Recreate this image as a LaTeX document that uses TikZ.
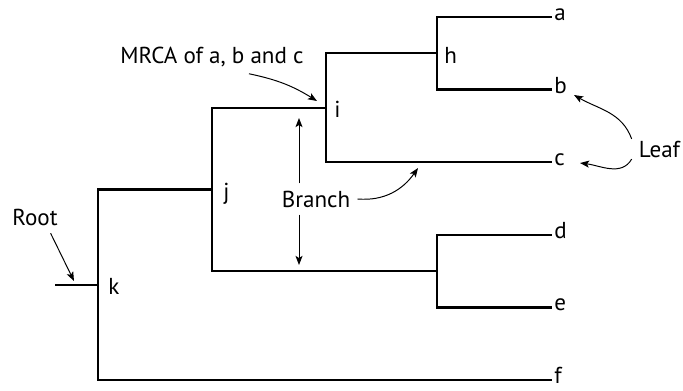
\documentclass[tikz,border=0pt]{standalone}
\usepackage{fontspec}
\setmainfont{PT Sans}
\usepackage{tikz}
\usetikzlibrary{positioning, arrows.meta, calc}

\begin{document}
\begin{tikzpicture}[
        x=0.025cm, y=-0.025cm,
        every node/.style = {font=\fontsize{16.4}{20}\selectfont},
        tree/.style = {line width=1.6pt, line join=miter},
        leaf/.style = {anchor=west, inner sep=1.5pt, text height=1ex, text depth=0pt},
        lab/.style = {anchor=base west, inner sep=0pt},
        ann/.style = {anchor=base, inner sep=5pt},
        arrow/.style = {-{Stealth[length=6.5pt, width=5pt, inset=1.5pt]}, line width=0.7pt}
      ]
      \useasboundingbox (0,0) rectangle (683,390);

      % ================= LEAVES =================
      \node[leaf] (a) at (552,17) {a};
      \node[leaf] (b) at (552,89.6) {b};
      \node[leaf] (c) at (552,162.2) {c};
      \node[leaf] (d) at (552,234.8) {d};
      \node[leaf] (e) at (552,307.4) {e};
      \node[leaf] (f) at (552,380) {f};

      % ================= INNER NODES =================
      \coordinate (h) at (437,53.3);
      \coordinate (i) at (326,107.8);
      \coordinate (de) at (437,271.1);
      \coordinate (j) at (212,189.4);
      \coordinate (k) at (98,284.7);
      \coordinate (stub) at (55,284.7);

      \node[lab] (h-lab) at ($(h)+(7,10)$) {h};
      \node[lab] (i-lab) at ($(i)+(8,10)$) {i};
      \node[lab] (j-lab) at ($(j)+(11,10)$) {j};
      \node[lab] (k-lab) at ($(k)+(10,10)$) {k};

      % Branches
      \draw[tree] (h) |- (a.west);
      \draw[tree] (h) |- (b.west);
      \draw[tree] (i) |- (h);
      \draw[tree] (i) |- (c.west);
      \draw[tree] (de) |- (d.west);
      \draw[tree] (de) |- (e.west);
      \draw[tree] (j) |- (i);
      \draw[tree] (j) |- (de);
      \draw[tree] (k) |- (j);
      \draw[tree] (k) |- (f.west);
      \draw[tree] (stub) -- (k);

      % ================= ANNOTATIONS =================
      \node[ann] (root) at (35,225.7) {Root};
      \node[ann] (mrca) at (212,63) {MRCA of a, b and c};
      \node[ann] (branch) at (316,207) {Branch};
      \node[ann] (leafnote) at (659.5,157) {Leaf};

      \coordinate (root-tip) at (74,281);
      \coordinate (mrca-tip) at (317,101);
      \coordinate (br-up) at (299,118);
      \coordinate (br-down) at (299,265);
      \coordinate (br-tip) at (418,168);
      \coordinate (leaf-b) at (574,95);
      \coordinate (leaf-c) at (580,163);

      \draw[arrow] (root.-45) -- (root-tip);
      \draw[arrow] (mrca.-25) to[bend left=10] (mrca-tip);
      \draw[arrow] (branch.north -| br-up) -- (br-up);
      \draw[arrow] (branch.south -| br-down) -- (br-down);
      \draw[arrow] (branch.east) to[out=-5, in=235] (br-tip);
      \draw[arrow] (leafnote.160) to[out=110, in=-30] (leaf-b);
      \draw[arrow] (leafnote.200) to[out=240, in=-7] (leaf-c);

    \end{tikzpicture}
\end{document}
